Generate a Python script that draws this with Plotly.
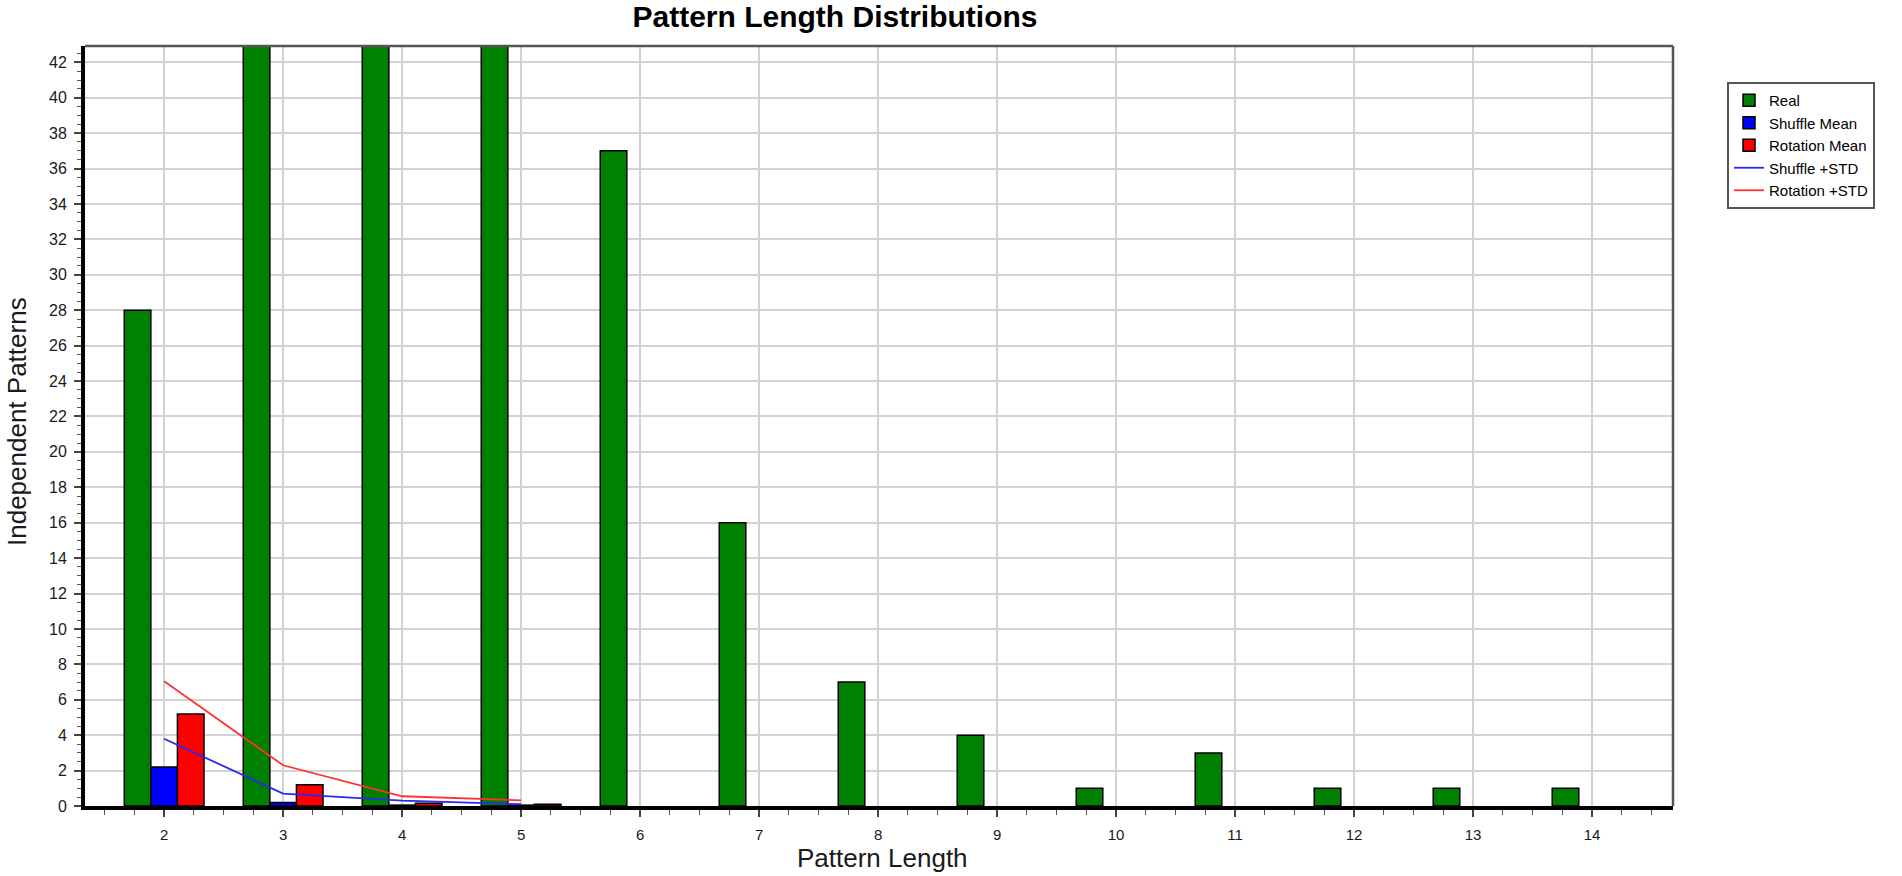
import plotly.graph_objects as go

# ---- data ----
pattern_length = [2, 3, 4, 5, 6, 7, 8, 9, 10, 11, 12, 13, 14]
real = [28, 48, 52, 46, 37, 16, 7, 4, 1, 3, 1, 1, 1]
shuffle_mean = [2.2, 0.2, 0.05, 0.05, None, None, None, None, None, None, None, None, None]
rotation_mean = [5.2, 1.2, 0.15, 0.1, None, None, None, None, None, None, None, None, None]
std_x = [2, 3, 4, 5]
shuffle_std = [3.8, 0.7, 0.3, 0.1]
rotation_std = [7.05, 2.3, 0.55, 0.32]
y_ticks = list(range(0, 43, 2))

FONT = "Liberation Sans, Arial, sans-serif"
W, H = 1902, 876
L, R, T, B = 85, 229, 46, 70

fig = go.Figure()
bar_line = dict(color="black", width=1.5)
fig.add_trace(go.Bar(x=pattern_length, y=real, name="Real",
                     marker=dict(color="#008000", line=bar_line)))
fig.add_trace(go.Bar(x=pattern_length, y=shuffle_mean, name="Shuffle Mean",
                     marker=dict(color="#0000ff", line=bar_line)))
fig.add_trace(go.Bar(x=pattern_length, y=rotation_mean, name="Rotation Mean",
                     marker=dict(color="#ff0000", line=bar_line)))
fig.add_trace(go.Scatter(x=std_x, y=shuffle_std, name="Shuffle +STD", mode="lines",
                         line=dict(color="rgb(40,40,240)", width=1.8)))
fig.add_trace(go.Scatter(x=std_x, y=rotation_std, name="Rotation +STD", mode="lines",
                         line=dict(color="rgb(255,50,50)", width=1.8)))

fig.update_layout(
    width=W, height=H,
    margin=dict(l=L, r=R, t=T, b=B, pad=0),
    paper_bgcolor="white", plot_bgcolor="white",
    barmode="group", bargap=0.33, bargroupgap=0,
    font=dict(family=FONT, color="#1a1a1a"),
    title=dict(text="<b>Pattern Length Distributions</b>",
               font=dict(family=FONT, size=30, color="black"),
               x=835 / W, xref="container", xanchor="center",
               y=1 - 16 / H, yref="container", yanchor="middle"),
    legend=dict(x=(1727 - L) / (W - L - R), y=(H - B - 82) / (H - T - B),
                xanchor="left", yanchor="top",
                bgcolor="white", bordercolor="#555", borderwidth=2,
                font=dict(family=FONT, size=15, color="black"),
                tracegroupgap=0, itemwidth=30),
    xaxis=dict(range=[1.335, 14.68], tickmode="linear", tick0=2, dtick=1,
               showgrid=True, gridcolor="#d3d3d3", gridwidth=2,
               zeroline=False, showline=True, linecolor="black", linewidth=4,
               ticks="outside", ticklen=7, tickwidth=1.5, tickcolor="#444",
               ticklabelstandoff=5,
               tickfont=dict(family=FONT, size=15, color="#1a1a1a"),
               minor=dict(tick0=2, dtick=0.25, ticklen=5, tickwidth=1.2,
                          tickcolor="#555", showgrid=False, ticks="outside")),
    yaxis=dict(range=[0, 42.92], tickmode="array", tickvals=y_ticks,
               showgrid=True, gridcolor="#d3d3d3", gridwidth=2,
               zeroline=False, showline=True, linecolor="black", linewidth=4,
               ticks="outside", ticklen=7, tickwidth=1.5, tickcolor="#444",
               ticklabelstandoff=4,
               tickfont=dict(family=FONT, size=16, color="#1a1a1a"),
               minor=dict(tick0=0, dtick=0.5, ticklen=4, tickwidth=1.2,
                          tickcolor="#555", showgrid=False, ticks="outside")),
    annotations=[
        dict(text="Pattern Length", xref="paper", yref="paper",
             x=(882 - L) / (W - L - R), y=(H - B - 858) / (H - T - B),
             xanchor="center", yanchor="middle", showarrow=False,
             font=dict(family=FONT, size=26, color="#1a1a1a")),
        dict(text="Independent Patterns", xref="paper", yref="paper",
             x=(17 - L) / (W - L - R), y=(H - B - 422) / (H - T - B),
             xanchor="center", yanchor="middle", showarrow=False, textangle=-90,
             font=dict(family=FONT, size=26, color="#1a1a1a")),
    ],
    shapes=[
        dict(type="line", xref="paper", yref="paper", x0=0, x1=1, y0=1, y1=1,
             line=dict(color="#555", width=2.5), layer="above"),
        dict(type="line", xref="paper", yref="paper", x0=1, x1=1, y0=0, y1=1,
             line=dict(color="#555", width=2.5), layer="above"),
    ],
)

fig.write_html("out.html",
               config={"displayModeBar": False},
               post_script="document.body.style.margin='0px';document.body.style.overflow='hidden';")
